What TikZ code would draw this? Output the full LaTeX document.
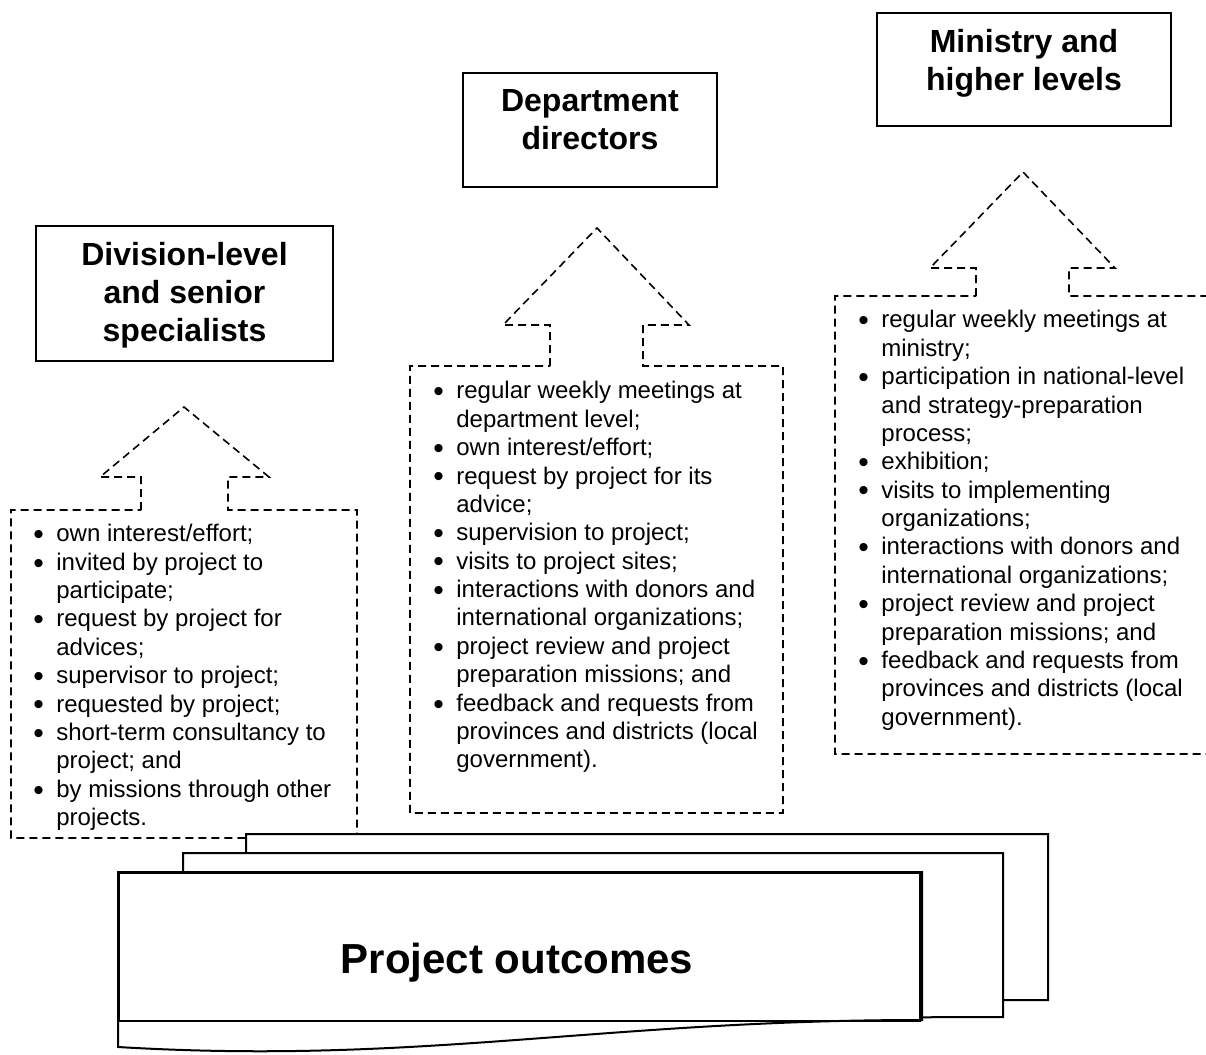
\documentclass[tikz,border=0pt]{standalone}
\usepackage{fontspec}
\setmainfont{Liberation Sans}
\usepackage{tikz}
\usetikzlibrary{positioning}

\newcommand{\itm}{\makebox[11.5pt][l]{\raisebox{-1.4pt}{\scalebox{1.25}{\textbullet}}}} % bullet + hanging indent
\newcommand{\cnt}{\hspace*{11.5pt}}                 % continuation line

\begin{document}
\begin{tikzpicture}[x=0.5pt,y=-0.5pt,
  hdrbox/.style={draw,line width=1pt,inner sep=0pt,anchor=north west},
  hdrtxt/.style={font=\bfseries\fontsize{16}{19}\selectfont,align=center,inner sep=0pt,anchor=north},
  lst/.style={font=\fontsize{12}{14.2}\selectfont,align=left,inner sep=0pt,anchor=north west},
  dsh/.style={line width=0.8pt,dash pattern=on 4pt off 2.5pt},
  doc/.style={draw,line width=1pt,fill=white}]
  \useasboundingbox (0,0) rectangle (1206,1055);
  % header boxes
  \node[hdrbox,minimum width=148.5pt,minimum height=67.5pt] (divbox) at (35,225) {};
  \node[hdrtxt,below=8.5pt of divbox.north] (divtxt) {Division-level\\and senior\\specialists};
  \node[hdrbox,minimum width=127pt,minimum height=57pt] (depbox) at (462,72) {};
  \node[hdrtxt,below=8.5pt of depbox.north] (deptxt) {Department\\directors};
  \node[hdrbox,minimum width=147pt,minimum height=56.5pt] (minbox) at (876,12) {};
  \node[hdrtxt,below=8.5pt of minbox.north] (mintxt) {Ministry and\\higher levels};
  % dashed arrows with their lists
  \draw[dsh] (141,510) -- (141,477) -- (100,477) -- (184,407) -- (269,477) -- (228,477) -- (228,510)
    -- (357,510) -- (357,838) -- (11,838) -- (11,510) -- cycle; % division level
  \draw[dsh] (550,366) -- (550,325) -- (503,325) -- (597,228) -- (689,325) -- (643,325) -- (643,366)
    -- (783,366) -- (783,813) -- (410,813) -- (410,366) -- cycle; % department level
  \draw[dsh] (976,296) -- (976,268) -- (930,268) -- (1023,172) -- (1115,268) -- (1069,268) -- (1069,296)
    -- (1212,296) -- (1212,754) -- (835,754) -- (835,296) -- cycle; % ministry level (runs off the page)
  \node[lst] (divlst) at (33,524) {\itm own interest/effort;\\
    \itm invited by project to\\ \cnt participate;\\
    \itm request by project for\\ \cnt advices;\\
    \itm supervisor to project;\\
    \itm requested by project;\\
    \itm short-term consultancy to\\ \cnt project; and\\
    \itm by missions through other\\ \cnt projects.};
  \node[lst] (deplst) at (433,381) {\itm regular weekly meetings at\\ \cnt department level;\\
    \itm own interest/effort;\\
    \itm request by project for its\\ \cnt advice;\\
    \itm supervision to project;\\
    \itm visits to project sites;\\
    \itm interactions with donors and\\ \cnt international organizations;\\
    \itm project review and project\\ \cnt preparation missions; and\\
    \itm feedback and requests from\\ \cnt provinces and districts (local\\ \cnt government).};
  \node[lst] (minlst) at (858,310) {\itm regular weekly meetings at\\ \cnt ministry;\\
    \itm participation in national-level\\ \cnt and strategy-preparation\\ \cnt process;\\
    \itm exhibition;\\
    \itm visits to implementing\\ \cnt organizations;\\
    \itm interactions with donors and\\ \cnt international organizations;\\
    \itm project review and project\\ \cnt preparation missions; and\\
    \itm feedback and requests from\\ \cnt provinces and districts (local\\ \cnt government).};
  % stacked documents, back to front
  \draw[doc] (246,834) -- (1048,834) -- (1048,1000) .. controls (750,1000) and (550,1010) .. (246,1005) -- cycle;
  \draw[doc] (183,853) -- (1003,853) -- (1003,1017) .. controls (700,1017) and (500,1030) .. (183,1025) -- cycle;
  \draw[doc] (118,872) -- (922,872) -- (922,1020) .. controls (600,1020) and (420,1065) .. (118,1047) -- cycle;
  \node[hdrbox,minimum width=400.5pt,minimum height=74pt] (outbox) at (118,872) {};
  \node[font=\bfseries\fontsize{21}{25}\selectfont,inner sep=0pt,anchor=base] (outtxt) at (517,973) {Project outcomes};
\end{tikzpicture}
\end{document}
